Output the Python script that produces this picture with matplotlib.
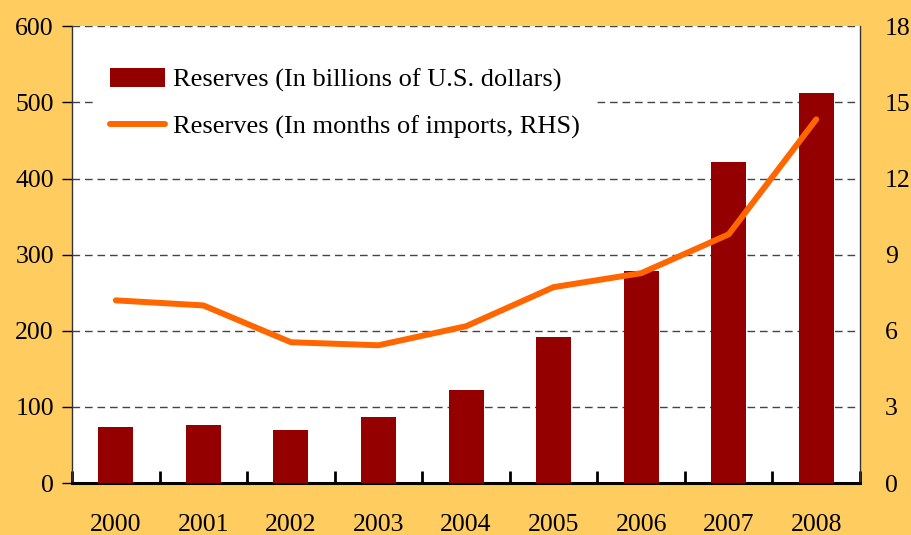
import numpy as np
import matplotlib
matplotlib.use('Agg')
import matplotlib.pyplot as plt

years = ['2000', '2001', '2002', '2003', '2004', '2005', '2006', '2007', '2008']
reserves_usd = [73.5, 76, 70, 87, 122, 192, 278, 422, 512]
reserves_months = [7.2, 7.0, 5.55, 5.43, 6.18, 7.72, 8.27, 9.8, 14.33]

plt.rcParams['font.family'] = ['Liberation Serif', 'DejaVu Serif']

bg = '#FFCC60'
fig = plt.figure(figsize=(9.12, 5.35), dpi=100, facecolor=bg)
ax = fig.add_axes([0.079, 0.097, 0.864, 0.854])
ax.set_facecolor('white')

x = np.arange(len(years))
bars = ax.bar(x, reserves_usd, width=0.4, color='#940000', zorder=3,
              label='Reserves (In billions of U.S. dollars)')
ax.set_xlim(-0.5, len(years) - 0.5)
ax.set_ylim(0, 600)
ax.set_yticks(range(0, 601, 100))
for v in range(100, 601, 100):
    ax.axhline(v, color='#444444', lw=1.0, dashes=(5.5, 3.5), zorder=1)

ax.set_xticks(x)
ax.set_xticklabels(years)
ax.set_xticks(np.arange(-0.5, len(years)), minor=True)
ax.tick_params(axis='x', which='major', length=0, pad=22, labelsize=18.5)
ax.tick_params(axis='x', which='minor', direction='in', length=9, width=2)
ax.tick_params(axis='y', which='major', direction='out', length=7, width=1, labelsize=18.5, pad=6)

ax.spines['top'].set_visible(False)
ax.spines['bottom'].set_linewidth(2.2)
ax.spines['left'].set_linewidth(1.0)
ax.spines['left'].set_color('#333333')
ax.spines['right'].set_linewidth(1.0)
ax.spines['right'].set_color('#333333')

ax2 = ax.twinx()
line, = ax2.plot(x, reserves_months, color='#FF6600', lw=4.3, zorder=4,
                 solid_capstyle='round', label='Reserves (In months of imports, RHS)')
ax2.set_ylim(0, 18)
ax2.set_yticks(range(0, 19, 3))
ax2.tick_params(axis='y', length=0, labelsize=18.5, pad=18)
for s in ['top', 'left', 'bottom', 'right']:
    ax2.spines[s].set_visible(False)

leg = ax2.legend([bars, line], [bars.get_label(), line.get_label()],
                 loc='upper left', bbox_to_anchor=(0.028, 0.943), frameon=True,
                 fontsize=19, handlelength=2.1, handleheight=0.75, handletextpad=0.3,
                 labelspacing=0.85, borderpad=0.6, borderaxespad=0)
leg.get_frame().set_facecolor('white')
leg.get_frame().set_edgecolor('white')
leg.get_frame().set_alpha(1.0)

fig.savefig('out.png', dpi=100, facecolor=bg)
